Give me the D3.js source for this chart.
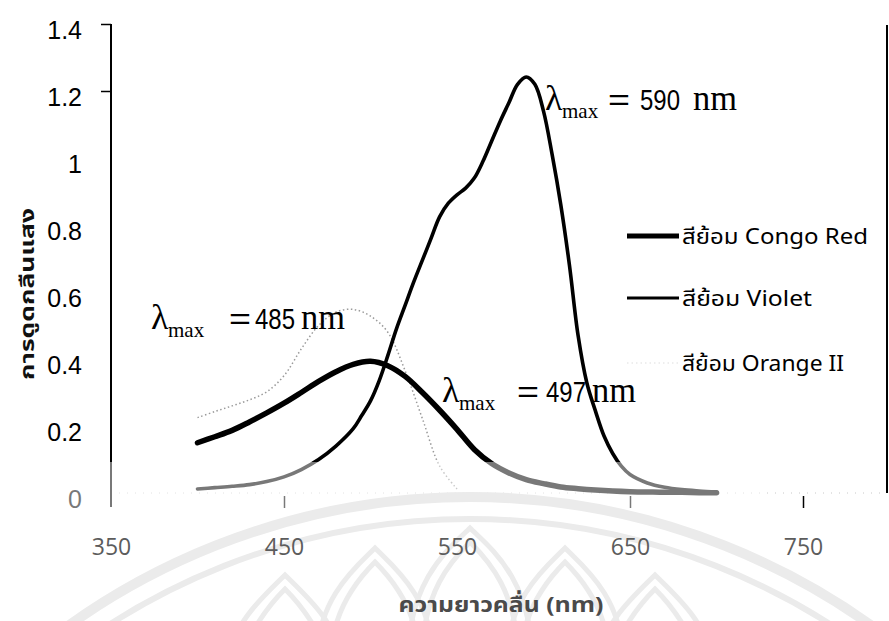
<!DOCTYPE html>
<html>
<head>
<meta charset="utf-8">
<script src="https://cdn.jsdelivr.net/npm/d3@7"></script>
<style>
  html, body { margin: 0; padding: 0; background: #fff; }
  svg { display: block; }
</style>
</head>
<body>
<svg id="chart" width="889" height="621"></svg>
<script>
// Absorption spectra of three dyes (absorbance vs wavelength, nm)
const congoWavelengths = [400,410,420,430,440,450,460,470,480,490,500,510,520,530,540,550,560,570,580,590,600,610,620,630,640,650,660,670,680,690,700];
const congoRed = [0.150,0.168,0.187,0.212,0.239,0.268,0.300,0.333,0.362,0.384,0.393,0.380,0.348,0.300,0.247,0.190,0.130,0.088,0.060,0.040,0.028,0.018,0.013,0.009,0.006,0.004,0.003,0.002,0.002,0.001,0.001];

const violetWavelengths = [400,410,420,430,440,450,460,470,480,490,495,500,505,510,515,520,525,530,535,540,545,550,555,560,565,570,575,580,585,590,595,600,605,610,615,620,625,630,635,640,645,650,660,670,680,690,700];
const violet = [0.012,0.016,0.020,0.025,0.034,0.048,0.070,0.100,0.140,0.192,0.232,0.275,0.335,0.410,0.490,0.560,0.630,0.695,0.760,0.825,0.865,0.890,0.910,0.940,0.990,1.050,1.110,1.165,1.220,1.242,1.220,1.140,1.010,0.860,0.680,0.470,0.330,0.245,0.170,0.118,0.080,0.055,0.030,0.017,0.010,0.006,0.003];

const orangeWavelengths = [400,410,420,430,440,450,460,470,480,490,500,510,520,530,540,550];
const orangeII = [0.225,0.243,0.260,0.278,0.302,0.350,0.430,0.500,0.540,0.548,0.528,0.480,0.365,0.222,0.080,0.012];

const seriesNames = ["สีย้อม Congo Red", "สีย้อม Violet", "สีย้อม Orange II"];
const peakLabels = ["590", "485", "497"];

const xTicks = [350, 450, 550, 650, 750];
const xTickLabels = ["350", "450", "550", "650", "750"];
const yTicks = [0, 0.2, 0.4, 0.6, 0.8, 1, 1.2, 1.4];
const yTickLabels = ["0", "0.2", "0.4", "0.6", "0.8", "1", "1.2", "1.4"];

const xTitle = "ความยาวคลื่น (nm)";
const yTitle = "การดูดกลืนแสง";

const THAI = "'Noto Sans Thai', 'Noto Sans Thai UI', Loma, Garuda, 'Open Sans', 'Noto Sans', sans-serif";
const SERIF = "'Liberation Serif', 'DejaVu Serif', serif";
const SANS = "'Liberation Sans', Arial, sans-serif";

const W = 889, H = 621;
const svg = d3.select("#chart");
const x = d3.scaleLinear().domain([350, 750]).range([111, 803]);
const y = d3.scaleLinear().domain([0, 1.4]).range([493, 24]);

const toPoints = (wl, vals) => wl.map((w, i) => [w, vals[i]]);
const line = d3.line()
  .x(d => x(d[0]))
  .y(d => y(d[1]))
  .curve(d3.curveCatmullRom.alpha(0.5));

// faint dotted baseline at zero absorbance
svg.append("line")
  .attr("x1", x(350)).attr("x2", W - 2)
  .attr("y1", y(0)).attr("y2", y(0))
  .attr("stroke", "#c8c8c8").attr("stroke-width", 1)
  .attr("stroke-dasharray", "1 7");

// y axis
const yAxis = d3.axisLeft(y)
  .tickValues(yTicks)
  .tickSize(10)
  .tickPadding(19)
  .tickFormat((d, i) => yTickLabels[i]);
const gy = svg.append("g").attr("transform", `translate(${x(350)},0)`).call(yAxis);
gy.select(".domain").remove();
gy.selectAll(".tick line")
  .attr("stroke", "#000").attr("stroke-width", 1.5)
  .attr("opacity", d => d >= 1.1 ? 1 : 0);
gy.selectAll(".tick text")
  .attr("fill", "#000")
  .attr("font-family", SANS)
  .attr("font-size", 25)
  .attr("dy", "0.58em");

svg.append("line")
  .attr("x1", x(350)).attr("x2", x(350))
  .attr("y1", y(1.4)).attr("y2", y(0) + 14)
  .attr("stroke", "#000").attr("stroke-width", 2);

// right frame edge
svg.append("line")
  .attr("x1", W - 2).attr("x2", W - 2)
  .attr("y1", y(1.4) + 1).attr("y2", y(0))
  .attr("stroke", "#000").attr("stroke-width", 2);

// x axis tick marks
const xAxisTicks = d3.axisBottom(x)
  .tickValues(xTicks)
  .tickSize(12)
  .tickFormat("");
const gxt = svg.append("g").attr("transform", `translate(0,${y(0) + 3})`).call(xAxisTicks);
gxt.select(".domain").remove();
gxt.selectAll(".tick line")
  .attr("stroke", "#000").attr("stroke-width", 1.5)
  .attr("opacity", d => (d === 350 || d === 550) ? 0 : 1);

// spectra
svg.append("path")
  .datum(toPoints(orangeWavelengths, orangeII))
  .attr("d", line)
  .attr("fill", "none")
  .attr("stroke", "#9a9a9a")
  .attr("stroke-width", 1.5)
  .attr("stroke-dasharray", "1.5 2.5");

svg.append("path")
  .datum(toPoints(violetWavelengths, violet))
  .attr("d", line)
  .attr("fill", "none")
  .attr("stroke", "#000")
  .attr("stroke-width", 3.6)
  .attr("stroke-linecap", "round");

svg.append("path")
  .datum(toPoints(congoWavelengths, congoRed))
  .attr("d", line)
  .attr("fill", "none")
  .attr("stroke", "#000")
  .attr("stroke-width", 5.5)
  .attr("stroke-linecap", "round");

// legend
const legendItems = [
  { name: seriesNames[0], width: 5, color: "#000", dash: null, len: 186, y: 236 },
  { name: seriesNames[1], width: 3.2, color: "#000", dash: null, len: 130, y: 298 },
  { name: seriesNames[2], width: 1.2, color: "#dedede", dash: "1.5 3", len: 162, y: 363 }
];
const lg = svg.append("g");
legendItems.forEach(it => {
  lg.append("line")
    .attr("x1", 627).attr("x2", 679)
    .attr("y1", it.y).attr("y2", it.y)
    .attr("stroke", it.color).attr("stroke-width", it.width)
    .attr("stroke-dasharray", it.dash);
  lg.append("text")
    .attr("x", 682).attr("y", it.y + 8)
    .attr("font-family", THAI)
    .attr("font-size", 21)
    .attr("fill", "#000")
    .attr("textLength", it.len)
    .attr("lengthAdjust", "spacingAndGlyphs")
    .text(it.name);
});

// λmax annotations: lambda, subscript, "=", value, unit
function lambdaLabel(x0, base, value, gaps) {
  const t = svg.append("text").attr("y", base).attr("fill", "#000");
  t.append("tspan").attr("x", x0).attr("font-family", SERIF).attr("font-size", 36).text("λ");
  t.append("tspan").attr("x", x0 + 17).attr("dy", 8)
    .attr("font-family", SERIF).attr("font-size", 21).text("max");
  t.append("tspan").attr("x", x0 + gaps[0]).attr("dy", -8)
    .attr("font-family", SANS).attr("font-size", 30)
    .attr("textLength", 22).attr("lengthAdjust", "spacingAndGlyphs").text("=");
  t.append("tspan").attr("x", x0 + gaps[1])
    .attr("font-family", SANS).attr("font-size", 29)
    .attr("textLength", 40).attr("lengthAdjust", "spacingAndGlyphs").text(value);
  t.append("tspan").attr("x", x0 + gaps[2])
    .attr("font-family", SERIF).attr("font-size", 36)
    .attr("textLength", 44).attr("lengthAdjust", "spacingAndGlyphs").text("nm");
}
lambdaLabel(545, 110, peakLabels[0], [63, 95, 148]);
lambdaLabel(151, 329, peakLabels[1], [78, 104, 150]);
lambdaLabel(442, 402, peakLabels[2], [75, 104, 150]);

// light wash over the lower band of the sheet
svg.append("rect")
  .attr("x", 50).attr("y", 462)
  .attr("width", 712).attr("height", H - 462)
  .attr("fill", "#fff").attr("opacity", 0.47);

// emblem watermark
const wm = svg.append("g")
  .attr("fill", "none")
  .attr("stroke", "#ebebeb");
wm.append("circle").attr("cx", 470).attr("cy", 1187).attr("r", 690).attr("stroke-width", 10);
wm.append("circle").attr("cx", 470).attr("cy", 1187).attr("r", 668).attr("stroke-width", 6);
const petals = [
  { cx: 470, top: 528, hw: 62 },
  { cx: 375, top: 548, hw: 58 },
  { cx: 565, top: 548, hw: 58 },
  { cx: 285, top: 575, hw: 55 },
  { cx: 655, top: 575, hw: 55 }
];
petals.forEach(p => {
  [0, 14].forEach(inset => {
    const t = p.top + inset, hw = p.hw - inset, b = 660;
    wm.append("path")
      .attr("stroke-width", 5)
      .attr("d", `M${p.cx - hw},${b} C${p.cx - hw},${t + 50} ${p.cx - 18},${t + 18} ${p.cx},${t}` +
                 ` C${p.cx + 18},${t + 18} ${p.cx + hw},${t + 50} ${p.cx + hw},${b}`);
  });
});

// x tick labels
const xAxisLabels = d3.axisBottom(x)
  .tickValues(xTicks)
  .tickSize(0)
  .tickFormat((d, i) => xTickLabels[i]);
const gxl = svg.append("g").attr("transform", `translate(0,${y(0)})`).call(xAxisLabels);
gxl.select(".domain").remove();
gxl.selectAll(".tick text")
  .attr("y", 62).attr("dy", 0)
  .attr("fill", "#5c5c5c")
  .attr("font-family", "'Open Sans', 'Noto Sans', sans-serif")
  .attr("font-size", 23);

// axis titles
svg.append("text")
  .attr("x", 501).attr("y", 612)
  .attr("text-anchor", "middle")
  .attr("font-family", THAI)
  .attr("font-weight", "bold")
  .attr("font-size", 21)
  .attr("fill", "#4a4a4a")
  .attr("textLength", 205)
  .attr("lengthAdjust", "spacingAndGlyphs")
  .text(xTitle);

svg.append("text")
  .attr("transform", "translate(34,294) rotate(-90)")
  .attr("text-anchor", "middle")
  .attr("font-family", THAI)
  .attr("font-weight", "bold")
  .attr("font-size", 20)
  .attr("fill", "#111")
  .attr("textLength", 172)
  .attr("lengthAdjust", "spacingAndGlyphs")
  .text(yTitle);
</script>
</body>
</html>
